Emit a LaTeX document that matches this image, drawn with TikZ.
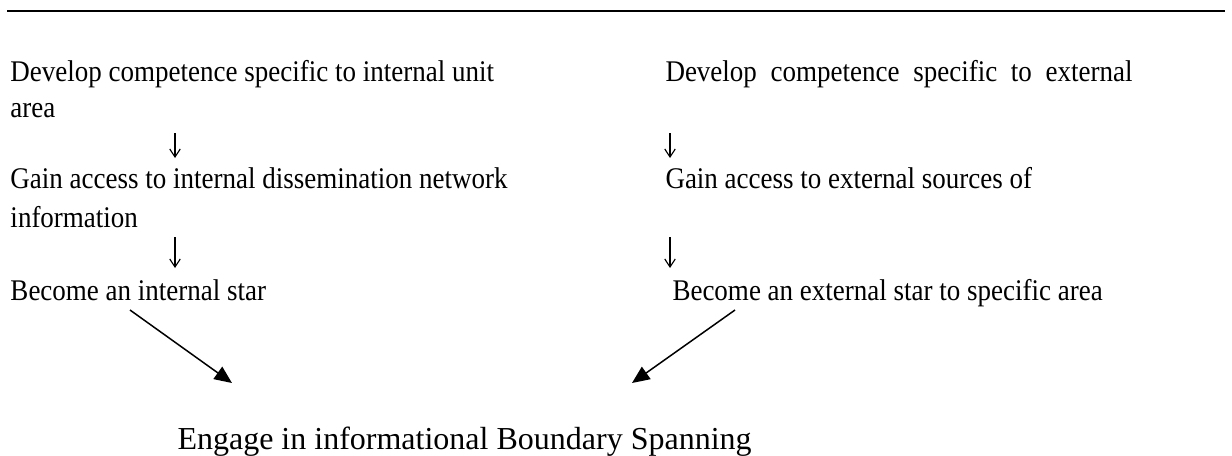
\documentclass[tikz,border=0pt]{standalone}
\usepackage{fontspec}
\setmainfont{Liberation Serif}
\newfontfamily\estrecha[FakeStretch=0.9]{Liberation Serif}
\usepackage{tikz}
\usetikzlibrary{arrows.meta, positioning}

\begin{document}
\begin{tikzpicture}[
        x=0.4pt, y=-0.4pt,
        paso/.style={anchor=base west, inner sep=0pt, font=\estrecha\fontsize{12}{14}\selectfont},
        resultado/.style={anchor=base west, inner sep=0pt, font=\fontsize{12.8}{15}\selectfont},
        bajada/.style={draw=black, line width=0.45pt, -{Straight Barb[length=3.2pt, width=4.2pt, line width=0.45pt]}},
        enlace/.style={draw=black, line width=0.6pt, -{Triangle[length=7pt, width=6pt]}}
    ]
        % Marco de la figura (en px de la referencia)
        \useasboundingbox (0,0) rectangle (1232,455);
        % Linea superior
        \draw[line width=0.9pt] (7,11) -- (1225,11);

        % Columna izquierda (interna)
        \node[paso] (int1) at (10,81) {Develop competence specific to internal unit};
        \node[paso] (int1b) at (10,117) {area};
        \node[paso] (int2) at (10,188) {Gain access to internal dissemination network};
        \node[paso] (int2b) at (10,227) {information};
        \node[paso] (int3) at (10,300) {Become an internal star};

        % Columna derecha (externa), primera linea justificada
        \node[paso] (ext1) at (665,81) {\makebox[186.8pt][s]{Develop competence specific to external}};
        \node[paso] (ext2) at (665,188) {Gain access to external sources of};
        \node[paso] (ext3) at (672,300) {Become an external star to specific area};

        % Resultado
        \node[resultado] (fin) at (177,449) {Engage in informational Boundary Spanning};

        % Flechas cortas entre pasos
        \coordinate (fi1a) at (175,133);  \coordinate (fi1b) at (175,158);
        \coordinate (fi2a) at (175,237);  \coordinate (fi2b) at (175,268);
        \coordinate (fe1a) at (670,133);  \coordinate (fe1b) at (670,158);
        \coordinate (fe2a) at (670,237);  \coordinate (fe2b) at (670,268);
        \draw[bajada] (fi1a) -- (fi1b);
        \draw[bajada] (fi2a) -- (fi2b);
        \draw[bajada] (fe1a) -- (fe1b);
        \draw[bajada] (fe2a) -- (fe2b);

        % Flechas diagonales hacia el resultado
        \coordinate (ini_int) at (130,310);
        \coordinate (fin_int) at (232,383);
        \coordinate (ini_ext) at (735,310);
        \coordinate (fin_ext) at (632,383);
        \draw[enlace] (ini_int) -- (fin_int);
        \draw[enlace] (ini_ext) -- (fin_ext);
    \end{tikzpicture}
\end{document}
